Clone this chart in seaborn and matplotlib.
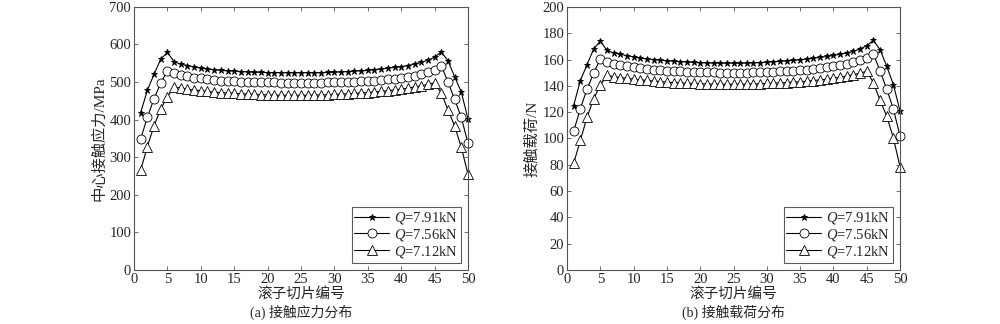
import numpy as np
import pandas as pd
import matplotlib
matplotlib.use("Agg")
import matplotlib.pyplot as plt
import seaborn as sns

slices = list(range(1, 51))
labels = ["7.91", "7.56", "7.12"]

stress_791 = [419, 478, 521, 561, 579, 554, 548, 544, 540, 537, 535, 533, 531, 530, 529, 528, 527, 526, 526, 525,
              525, 525, 525, 525, 525, 525, 525, 525, 526, 526, 527, 528, 529, 530, 531, 533, 535, 537, 539, 541,
              544, 548, 553, 558, 566, 580, 557, 514, 473, 402]
stress_756 = [349, 406, 456, 497, 530, 524, 519, 515, 512, 510, 508, 506, 504, 503, 502, 501, 500, 500, 499, 499,
              499, 498, 498, 498, 498, 498, 498, 498, 499, 499, 500, 500, 501, 502, 503, 504, 505, 507, 509, 511,
              514, 517, 521, 527, 533, 544, 500, 454, 406, 337]
stress_712 = [266, 328, 384, 428, 461, 487, 484, 481, 479, 477, 475, 473, 472, 471, 470, 469, 468, 467, 466, 466,
              465, 465, 465, 465, 465, 465, 465, 466, 466, 467, 468, 469, 470, 471, 472, 474, 475, 477, 479, 481,
              484, 487, 490, 494, 498, 471, 426, 383, 326, 255]

load_791 = [125, 144, 156, 168, 174, 167, 165, 164, 163, 162, 161, 160.5, 160, 159.5, 159, 158.7, 158.4, 158.1, 157.8, 157.6,
            157.4, 157.3, 157.2, 157.2, 157.2, 157.2, 157.3, 157.5, 157.7, 158, 158.3, 158.6, 159, 159.4, 159.9, 160.4, 161, 161.6, 162.3, 163.1,
            164, 165, 166.3, 168, 170.5, 174.5, 167.5, 155, 141, 121]
load_756 = [105.5, 122.5, 137.5, 149.5, 160.5, 158, 156.5, 155.5, 154.7, 154, 153.4, 152.9, 152.4, 152, 151.6, 151.3, 151, 150.8, 150.6, 150.4,
            150.3, 150.2, 150.1, 150, 150, 150, 150.1, 150.2, 150.3, 150.5, 150.7, 151, 151.3, 151.6, 152, 152.4, 152.9, 153.5, 154.1, 154.8,
            155.6, 156.6, 157.8, 159.3, 161.2, 164.3, 151.5, 137.5, 122.5, 102]
load_712 = [81, 98.5, 116, 130, 140.5, 148, 147, 146.3, 145.7, 145.1, 144.6, 144.1, 143.6, 143.2, 142.8, 142.5, 142.2, 142, 141.8, 141.6,
            141.4, 141.3, 141.2, 141.2, 141.2, 141.2, 141.3, 141.4, 141.6, 141.8, 142, 142.2, 142.5, 142.8, 143.1, 143.5, 144, 144.5, 145.1, 145.8,
            146.6, 147.5, 148.5, 149.7, 151, 142.5, 129, 117, 100.5, 78.5]

sns.set_theme(style="ticks")
plt.rcParams['font.family'] = ['Liberation Serif', 'Noto Sans CJK SC']
plt.rcParams['mathtext.fontset'] = 'custom'
plt.rcParams['mathtext.it'] = 'Liberation Serif:italic'
plt.rcParams['mathtext.rm'] = 'Liberation Serif'

fig = plt.figure(figsize=(10, 3.24), dpi=100)
ax1 = fig.add_axes([0.134, 0.1667, 0.334, 0.812])
ax2 = fig.add_axes([0.567, 0.1667, 0.333, 0.812])

markers = ["*", "o", "^"]
msizes = [5, 6.5, 7.5]

def draw(ax, series, ylim, yticks, ylabel, caption):
    for vals, lab, mk, ms in zip(series, labels, markers, msizes):
        df = pd.DataFrame({"x": slices, "y": vals})
        sns.lineplot(data=df, x="x", y="y", ax=ax, color="black", linewidth=0.8,
                     marker=mk, markersize=ms, markerfacecolor="white" if mk != "*" else "black",
                     markeredgecolor="black", markeredgewidth=0.6, clip_on=False,
                     label=r"$Q$=" + lab + "kN")
    ax.set_xlim(0, 50)
    ax.set_ylim(*ylim)
    ax.set_xticks(range(0, 51, 5))
    ax.set_yticks(yticks)
    ax.tick_params(direction="in", top=True, right=True, labelsize=10.5, length=3, width=0.6, pad=2,
                   color="#555555")
    for s in ax.spines.values():
        s.set_color("#555555")
        s.set_linewidth(0.8)
    ax.set_xlabel("滚子切片编号", fontsize=10.5, labelpad=1)
    ax.set_ylabel(ylabel, fontsize=11, labelpad=2)
    ax.text(0.5, -0.13, caption, transform=ax.transAxes, ha="center", va="top", fontsize=10)
    leg = ax.legend(loc="lower right", fontsize=10.5, frameon=True, fancybox=False, edgecolor="#333333",
                    handlelength=2.4, handletextpad=0.3, borderpad=0.2, labelspacing=0.05,
                    borderaxespad=0.5)
    leg.get_frame().set_linewidth(0.8)

draw(ax1, [stress_791, stress_756, stress_712], (0, 700), range(0, 701, 100), "中心接触应力/MPa", "(a) 接触应力分布")
draw(ax2, [load_791, load_756, load_712], (0, 200), range(0, 201, 20), "接触载荷/N", "(b) 接触载荷分布")

fig.savefig("out.png", dpi=100)
